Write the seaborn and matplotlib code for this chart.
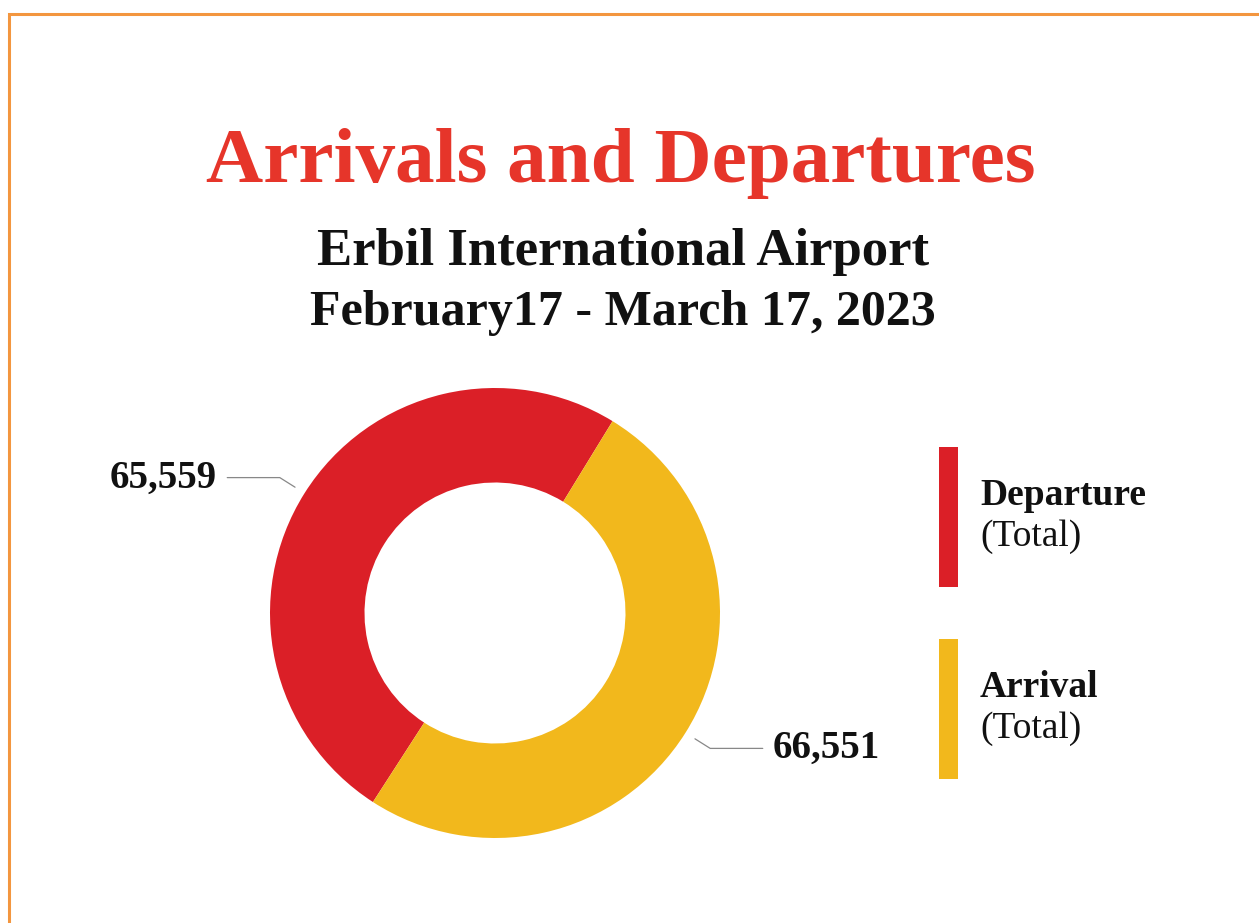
import numpy as np
import matplotlib.pyplot as plt
import seaborn as sns
from matplotlib.patches import Rectangle

# data
labels = ['Departure', 'Arrival']
totals = [65559, 66551]
colors = ['#DB1F27', '#F2B81C']

sns.set_theme(style='white')
plt.rcParams['font.family'] = ['Liberation Serif', 'DejaVu Serif']

W, H = 1259, 923
fig = plt.figure(figsize=(W / 100, H / 100), dpi=100)
fig.patch.set_facecolor('white')

def fx(x):
    return x / W

def fy(y):
    return 1 - y / H

# orange frame (runs off the right and bottom edges)
fig.add_artist(Rectangle((fx(9), -0.5), 2, fy(14) + 0.5,
                         transform=fig.transFigure, fill=False, edgecolor='#F3963F', lw=2.2))

# titles
fig.text(fx(621), fy(182), 'Arrivals and Departures', ha='center', va='baseline',
         color='#E6352A', fontsize=57, fontweight='bold')
fig.text(fx(623), fy(265), 'Erbil International Airport', ha='center', va='baseline',
         color='#111111', fontsize=38, fontweight='bold')
fig.text(fx(623), fy(325), 'February17 - March 17, 2023', ha='center', va='baseline',
         color='#111111', fontsize=36, fontweight='bold')

# donut
cx, cy, R = 495, 613, 225
ax = fig.add_axes([fx(cx - R), fy(cy + R), 2 * R / W, 2 * R / H])
start = 58.5
wedges, _ = ax.pie(totals, colors=colors, startangle=start, counterclock=True,
                   radius=1, wedgeprops=dict(width=0.42, edgecolor='none'))
ax.set_xlim(-1, 1)
ax.set_ylim(-1, 1)
ax.set_aspect('equal')
ax.axis('off')

for w, val in zip(wedges, totals):
    mid = np.deg2rad((w.theta1 + w.theta2) / 2)
    p1 = np.array([np.cos(mid), np.sin(mid)]) * 1.05
    p2 = np.array([np.cos(mid), np.sin(mid)]) * 1.13
    side = np.sign(p1[0])
    x3 = side * 1.19
    ax.plot([p1[0], p2[0], x3], [p1[1], p2[1], p2[1]], color='#888888', lw=0.9,
            clip_on=False)
    ax.text(x3 + side * 0.045, p2[1] - 0.044, f'{val:,}', ha='left' if side > 0 else 'right',
            va='baseline', fontsize=28, fontweight='bold', color='#111111')

# legend
leg_tops = [447, 639]
for lab, col, top in zip(labels, colors, leg_tops):
    fig.add_artist(Rectangle((fx(939), fy(top + 140)), 19 / W, 140 / H,
                             transform=fig.transFigure, color=col, lw=0))
    fig.text(fx(980), fy(top + 58), lab, ha='left', va='baseline', fontsize=27,
             fontweight='bold', color='#111111')
    fig.text(fx(980), fy(top + 99), '(Total)', ha='left', va='baseline', fontsize=27,
             color='#111111')

fig.savefig('out.png', dpi=100)
